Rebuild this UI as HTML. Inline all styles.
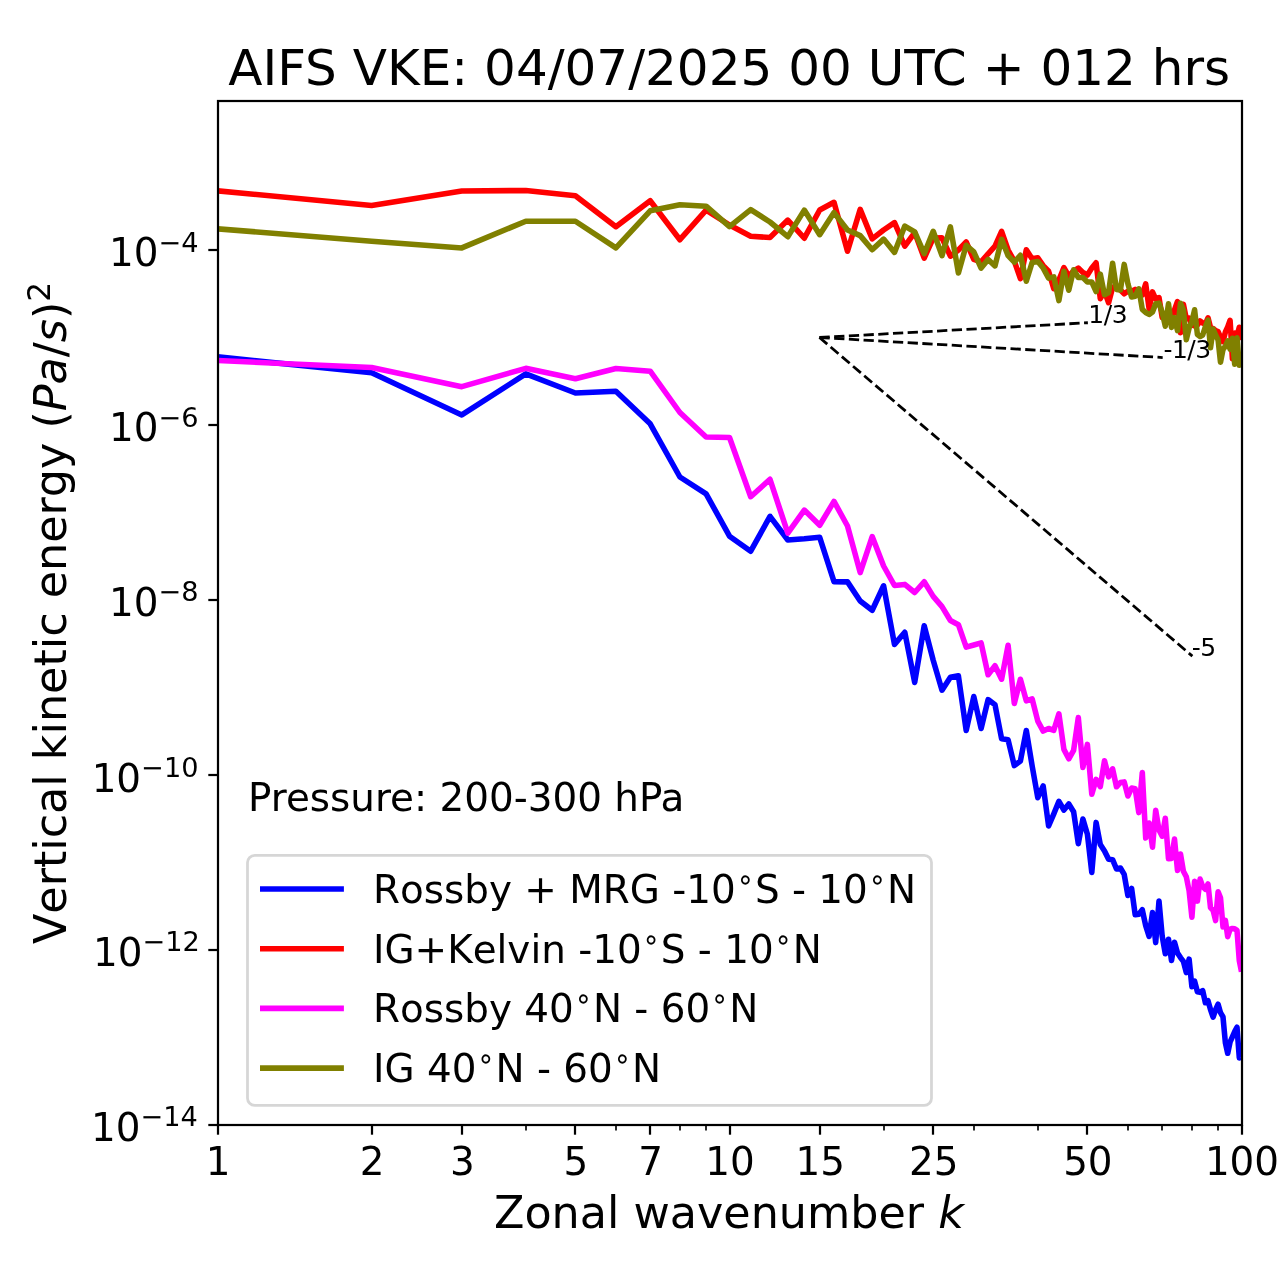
<!DOCTYPE html>
<html lang="en"><head><meta charset="utf-8"><title>AIFS VKE</title>
<style>
html,body{margin:0;padding:0;background:#fff;}
body{width:1280px;height:1288px;overflow:hidden;}
svg{display:block;will-change:transform;}
text{font-family:"DejaVu Sans","Liberation Sans",sans-serif;fill:#000;}
.it{font-style:oblique;}
.nk{font-kerning:none;font-variant-ligatures:none;font-feature-settings:"kern" 0,"liga" 0;}
</style></head><body>
<svg width="1280" height="1288" viewBox="0 0 1280 1288">
<rect x="0" y="0" width="1280" height="1288" fill="#fff"/>
<defs><clipPath id="ax"><rect x="218" y="101" width="1024" height="1024"/></clipPath></defs>
<g stroke="#000" stroke-width="2.22" fill="none">
<line x1="218.00" y1="1125" x2="218.00" y2="1134.7"/>
<line x1="372.00" y1="1125" x2="372.00" y2="1134.7"/>
<line x1="462.00" y1="1125" x2="462.00" y2="1134.7"/>
<line x1="575.00" y1="1125" x2="575.00" y2="1134.7"/>
<line x1="650.00" y1="1125" x2="650.00" y2="1134.7"/>
<line x1="730.00" y1="1125" x2="730.00" y2="1134.7"/>
<line x1="820.00" y1="1125" x2="820.00" y2="1134.7"/>
<line x1="933.00" y1="1125" x2="933.00" y2="1134.7"/>
<line x1="1087.00" y1="1125" x2="1087.00" y2="1134.7"/>
<line x1="1242.00" y1="1125" x2="1242.00" y2="1134.7"/>
<line x1="208.3" y1="1125.00" x2="218" y2="1125.00"/>
<line x1="208.3" y1="950.00" x2="218" y2="950.00"/>
<line x1="208.3" y1="775.00" x2="218" y2="775.00"/>
<line x1="208.3" y1="600.00" x2="218" y2="600.00"/>
<line x1="208.3" y1="425.00" x2="218" y2="425.00"/>
<line x1="208.3" y1="250.00" x2="218" y2="250.00"/>
</g>
<g stroke="#000" stroke-width="1.67" fill="none">
<line x1="526.00" y1="1125" x2="526.00" y2="1130.6"/>
<line x1="616.00" y1="1125" x2="616.00" y2="1130.6"/>
<line x1="680.00" y1="1125" x2="680.00" y2="1130.6"/>
<line x1="706.00" y1="1125" x2="706.00" y2="1130.6"/>
<line x1="884.00" y1="1125" x2="884.00" y2="1130.6"/>
<line x1="974.00" y1="1125" x2="974.00" y2="1130.6"/>
<line x1="1038.00" y1="1125" x2="1038.00" y2="1130.6"/>
<line x1="1128.00" y1="1125" x2="1128.00" y2="1130.6"/>
<line x1="1162.00" y1="1125" x2="1162.00" y2="1130.6"/>
<line x1="1192.00" y1="1125" x2="1192.00" y2="1130.6"/>
<line x1="1218.00" y1="1125" x2="1218.00" y2="1130.6"/>
</g>
<g clip-path="url(#ax)">
<polyline points="217.5,356.8 371.6,372.8 461.8,414.9 525.8,373.8 575.4,393.0 615.9,391.2 650.2,423.8 679.9,477.0 706.1,493.8 729.5,536.2 750.7,551.2 770.0,516.3 787.8,540.0 804.3,538.8 819.7,537.3 834.0,581.6 847.5,581.9 860.2,601.0 872.2,610.2 883.6,585.8 894.5,644.4 904.8,632.3 914.7,682.4 924.2,625.8 933.2,660.2 942.0,690.2 950.4,677.3 958.4,675.8 966.2,730.5 973.8,696.5 981.1,728.5 988.1,699.6 995.0,704.7 1001.6,738.8 1008.1,739.8 1014.3,765.6 1020.4,761.0 1026.3,730.5 1032.1,765.6 1037.8,797.7 1043.2,786.0 1048.6,826.0 1053.8,813.8 1058.9,801.3 1063.9,810.0 1068.8,804.0 1073.6,811.7 1078.3,843.7 1082.9,819.1 1087.4,834.2 1091.8,872.4 1096.1,822.4 1100.3,844.5 1104.5,851.0 1108.6,859.3 1112.6,859.7 1116.5,869.0 1120.4,868.0 1124.2,874.4 1127.9,895.5 1131.6,888.5 1135.2,914.8 1138.8,914.2 1142.3,909.8 1145.7,925.7 1149.1,936.4 1152.5,912.6 1155.7,942.6 1159.0,901.0 1162.2,936.2 1165.3,953.8 1168.5,939.2 1171.5,960.5 1174.5,942.3 1177.5,953.0 1180.5,957.6 1183.4,961.4 1186.3,972.6 1189.1,959.1 1191.9,986.7 1194.6,981.1 1197.4,991.7 1200.1,992.4 1202.7,990.7 1205.4,1002.8 1208.0,1000.8 1210.5,1009.6 1213.1,1017.2 1215.6,1009.6 1218.1,1004.2 1220.5,1012.7 1223.0,1016.9 1225.4,1043.0 1227.7,1053.3 1230.1,1042.0 1232.4,1036.8 1234.7,1031.6 1237.0,1027.2 1239.3,1057.9 1241.5,1050.0" fill="none" stroke="#0000ff" stroke-width="5.56" stroke-linejoin="round" stroke-linecap="butt"/>
<polyline points="217.5,190.8 371.6,205.4 461.8,191.0 525.8,190.5 575.4,195.8 615.9,226.7 650.2,200.8 679.9,239.7 706.1,210.1 729.5,225.0 750.7,236.2 770.0,237.5 787.8,220.1 804.3,238.2 819.7,210.0 834.0,202.3 847.5,251.2 860.2,209.4 872.2,238.9 883.6,230.0 894.5,222.6 904.8,246.2 914.7,232.6 924.2,258.1 933.2,238.0 942.0,237.8 950.4,256.2 958.4,250.0 966.2,241.9 973.8,259.4 981.1,261.9 988.1,253.8 995.0,246.2 1001.6,231.3 1008.1,250.0 1014.3,261.2 1020.4,278.7 1026.3,249.8 1032.1,258.8 1037.8,257.8 1043.2,265.6 1048.6,271.2 1053.8,288.7 1058.9,280.0 1063.9,267.6 1068.8,276.2 1073.6,271.0 1078.3,268.1 1082.9,272.5 1087.4,275.0 1091.8,268.1 1096.1,262.8 1100.3,298.7 1104.5,291.3 1108.6,302.7 1112.6,287.5 1116.5,285.6 1120.4,290.0 1124.2,293.8 1127.9,291.2 1131.6,291.2 1135.2,289.4 1138.8,290.0 1142.3,294.9 1145.7,283.8 1149.1,308.7 1152.5,291.9 1155.7,298.8 1159.0,297.5 1162.2,317.5 1165.3,315.0 1168.5,313.8 1171.5,318.7 1174.5,310.0 1177.5,301.5 1180.5,332.7 1183.4,304.3 1186.3,318.8 1189.1,318.0 1191.9,325.0 1194.6,326.0 1197.4,325.0 1200.1,321.0 1202.7,323.0 1205.4,323.8 1208.0,317.8 1210.5,327.5 1213.1,328.5 1215.6,330.6 1218.1,331.5 1220.5,337.0 1223.0,341.7 1225.4,332.0 1227.7,327.0 1230.1,320.3 1232.4,358.7 1234.7,333.0 1237.0,336.0 1239.3,327.3 1241.5,340.0" fill="none" stroke="#ff0000" stroke-width="5.56" stroke-linejoin="round" stroke-linecap="butt"/>
<polyline points="217.5,360.5 371.6,367.5 461.8,386.7 525.8,368.3 575.4,378.7 615.9,368.5 650.2,371.2 679.9,412.5 706.1,437.0 729.5,437.5 750.7,496.7 770.0,479.3 787.8,533.2 804.3,510.1 819.7,525.2 834.0,501.4 847.5,526.0 860.2,572.6 872.2,536.6 883.6,566.0 894.5,585.5 904.8,584.4 914.7,592.5 924.2,581.8 933.2,596.4 942.0,606.6 950.4,620.5 958.4,624.7 966.2,647.2 973.8,645.0 981.1,642.9 988.1,674.8 995.0,665.8 1001.6,679.2 1008.1,645.3 1014.3,703.5 1020.4,679.3 1026.3,700.8 1032.1,698.8 1037.8,721.1 1043.2,731.1 1048.6,728.5 1053.8,730.3 1058.9,713.8 1063.9,749.4 1068.8,758.8 1073.6,750.4 1078.3,717.6 1082.9,767.5 1087.4,744.4 1091.8,794.3 1096.1,779.4 1100.3,786.5 1104.5,760.7 1108.6,776.8 1112.6,768.8 1116.5,786.8 1120.4,782.5 1124.2,781.9 1127.9,796.0 1131.6,788.1 1135.2,788.8 1138.8,812.6 1142.3,772.5 1145.7,838.0 1149.1,823.0 1152.5,847.2 1155.7,810.3 1159.0,830.0 1162.2,836.2 1165.3,818.2 1168.5,858.7 1171.5,858.4 1174.5,839.1 1177.5,870.4 1180.5,854.0 1183.4,871.2 1186.3,876.8 1189.1,890.8 1191.9,917.2 1194.6,881.2 1197.4,901.1 1200.1,879.1 1202.7,886.6 1205.4,889.4 1208.0,884.0 1210.5,907.6 1213.1,910.4 1215.6,920.6 1218.1,891.7 1220.5,897.8 1223.0,926.9 1225.4,920.3 1227.7,936.7 1230.1,929.2 1232.4,928.5 1234.7,928.8 1237.0,930.3 1239.3,960.7 1241.5,971.8" fill="none" stroke="#ff00ff" stroke-width="5.56" stroke-linejoin="round" stroke-linecap="butt"/>
<polyline points="217.5,228.8 371.6,241.2 461.8,247.9 525.8,221.2 575.4,221.2 615.9,247.9 650.2,210.8 679.9,204.8 706.1,206.2 729.5,226.7 750.7,209.6 770.0,222.0 787.8,236.7 804.3,210.1 819.7,234.7 834.0,212.6 847.5,230.0 860.2,235.6 872.2,249.7 883.6,239.1 894.5,252.4 904.8,226.1 914.7,231.9 924.2,253.7 933.2,231.3 942.0,255.6 950.4,226.9 958.4,272.9 966.2,245.3 973.8,251.9 981.1,268.1 988.1,259.4 995.0,265.9 1001.6,239.4 1008.1,255.6 1014.3,262.2 1020.4,255.3 1026.3,281.2 1032.1,262.5 1037.8,261.5 1043.2,268.1 1048.6,278.1 1053.8,276.9 1058.9,300.6 1063.9,271.3 1068.8,290.2 1073.6,269.8 1078.3,277.5 1082.9,277.5 1087.4,281.9 1091.8,282.0 1096.1,291.5 1100.3,274.1 1104.5,294.7 1108.6,292.5 1112.6,263.2 1116.5,289.4 1120.4,290.0 1124.2,264.4 1127.9,283.8 1131.6,296.9 1135.2,296.2 1138.8,288.8 1142.3,309.4 1145.7,312.5 1149.1,314.4 1152.5,311.9 1155.7,303.8 1159.0,303.1 1162.2,312.5 1165.3,326.2 1168.5,303.8 1171.5,327.4 1174.5,317.6 1177.5,330.6 1180.5,303.2 1183.4,310.0 1186.3,339.7 1189.1,328.0 1191.9,321.5 1194.6,309.8 1197.4,334.5 1200.1,336.5 1202.7,335.0 1205.4,326.7 1208.0,320.1 1210.5,347.8 1213.1,329.1 1215.6,335.0 1218.1,340.0 1220.5,362.2 1223.0,349.5 1225.4,346.2 1227.7,340.8 1230.1,349.2 1232.4,338.3 1234.7,364.2 1237.0,337.8 1239.3,365.2 1241.5,352.0" fill="none" stroke="#808000" stroke-width="5.56" stroke-linejoin="round" stroke-linecap="butt"/>
<line x1="819.46" y1="337.50" x2="1087.87" y2="322.74" stroke="#000" stroke-width="2.78" stroke-dasharray="10.278,4.444"/>
<line x1="819.46" y1="337.50" x2="1162.69" y2="357.52" stroke="#000" stroke-width="2.78" stroke-dasharray="10.278,4.444"/>
<line x1="819.46" y1="337.50" x2="1192.38" y2="656.17" stroke="#000" stroke-width="2.78" stroke-dasharray="10.278,4.444"/>
</g>
<text x="1088.3" y="323.3" font-size="25" letter-spacing="-0.5">1/3</text>
<text x="1163.4" y="357.9" font-size="25" letter-spacing="-0.5">-1/3</text>
<text x="1191.8" y="655.8" font-size="25" letter-spacing="-0.5">-5</text>
<rect x="218" y="101" width="1024" height="1024" fill="none" stroke="#000" stroke-width="2.22"/>
<text x="218.00" y="1174.9" font-size="38.89" text-anchor="middle">1</text>
<text x="372.13" y="1174.9" font-size="38.89" text-anchor="middle">2</text>
<text x="462.29" y="1174.9" font-size="38.89" text-anchor="middle">3</text>
<text x="575.87" y="1174.9" font-size="38.89" text-anchor="middle">5</text>
<text x="650.69" y="1174.9" font-size="38.89" text-anchor="middle">7</text>
<text x="730.00" y="1174.9" font-size="38.89" text-anchor="middle">10</text>
<text x="820.16" y="1174.9" font-size="38.89" text-anchor="middle">15</text>
<text x="933.75" y="1174.9" font-size="38.89" text-anchor="middle">25</text>
<text x="1087.87" y="1174.9" font-size="38.89" text-anchor="middle">50</text>
<text x="1242.00" y="1174.9" font-size="38.89" text-anchor="middle">100</text>
<text x="197.8" y="1140.80" font-size="38.89" text-anchor="end">10<tspan font-size="27.2" dy="-14.9">−14</tspan></text>
<text x="199.8" y="965.64" font-size="38.89" text-anchor="end">10<tspan font-size="27.2" dy="-14.9">−12</tspan></text>
<text x="198.5" y="791.58" font-size="38.89" text-anchor="end">10<tspan font-size="27.2" dy="-14.9">−10</tspan></text>
<text x="198.5" y="615.53" font-size="38.89" text-anchor="end">10<tspan font-size="27.2" dy="-14.9">−8</tspan></text>
<text x="198.5" y="441.47" font-size="38.89" text-anchor="end">10<tspan font-size="27.2" dy="-14.9">−6</tspan></text>
<text x="198.5" y="266.41" font-size="38.89" text-anchor="end">10<tspan font-size="27.2" dy="-14.9">−4</tspan></text>
<text x="729.2" y="85" font-size="50" text-anchor="middle">AIFS VKE: 04/07/2025 00 UTC + 012 hrs</text>
<text x="729" y="1227.5" font-size="44.44" text-anchor="middle">Zonal wavenumber <tspan class="it">k</tspan></text>
<text transform="translate(66,613) rotate(-90)" font-size="44.44" text-anchor="middle" class="nk">Vertical kinetic energy (<tspan class="it">Pa</tspan>/<tspan class="it">s</tspan>)<tspan font-size="31.1" dy="-16.5">2</tspan></text>
<text x="248" y="811" font-size="38.89">Pressure: 200-300 hPa</text>
<rect x="247.5" y="855.3" width="684" height="250.1" rx="7.2" ry="7.2" fill="#fff" fill-opacity="0.8" stroke="#ccc" stroke-opacity="0.8" stroke-width="2.78"/>
<line x1="260" y1="889.0" x2="343.9" y2="889.0" stroke="#0000ff" stroke-width="5.56"/>
<text x="373" y="902.8" font-size="38.89" class="nk">Rossby + MRG -10<tspan font-size="28.6" dx="0.6" dy="-14">∘</tspan><tspan dx="0.6" dy="14">​</tspan>S - 10<tspan font-size="28.6" dx="0.6" dy="-14">∘</tspan><tspan dx="0.6" dy="14">​</tspan>N</text>
<line x1="260" y1="948.7" x2="343.9" y2="948.7" stroke="#ff0000" stroke-width="5.56"/>
<text x="373" y="962.5" font-size="38.89" class="nk">IG+Kelvin -10<tspan font-size="28.6" dx="0.6" dy="-14">∘</tspan><tspan dx="0.6" dy="14">​</tspan>S - 10<tspan font-size="28.6" dx="0.6" dy="-14">∘</tspan><tspan dx="0.6" dy="14">​</tspan>N</text>
<line x1="260" y1="1008.4" x2="343.9" y2="1008.4" stroke="#ff00ff" stroke-width="5.56"/>
<text x="373" y="1022.2" font-size="38.89" class="nk">Rossby 40<tspan font-size="28.6" dx="0.6" dy="-14">∘</tspan><tspan dx="0.6" dy="14">​</tspan>N - 60<tspan font-size="28.6" dx="0.6" dy="-14">∘</tspan><tspan dx="0.6" dy="14">​</tspan>N</text>
<line x1="260" y1="1068.1" x2="343.9" y2="1068.1" stroke="#808000" stroke-width="5.56"/>
<text x="373" y="1081.9" font-size="38.89" class="nk">IG 40<tspan font-size="28.6" dx="0.6" dy="-14">∘</tspan><tspan dx="0.6" dy="14">​</tspan>N - 60<tspan font-size="28.6" dx="0.6" dy="-14">∘</tspan><tspan dx="0.6" dy="14">​</tspan>N</text>
</svg>
</body></html>
